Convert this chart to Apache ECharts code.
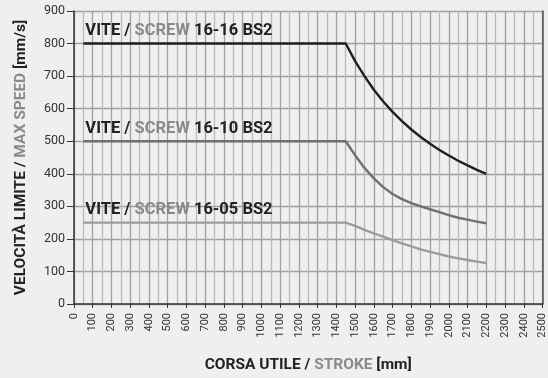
<!DOCTYPE html>
<html>
<head>
<meta charset="utf-8">
<script src="https://cdn.jsdelivr.net/npm/echarts@6/dist/echarts.min.js"></script>
<style>
  html, body { margin: 0; padding: 0; background: #efefef; }
  #chart { width: 548px; height: 378px; }
</style>
</head>
<body>
<div id="chart"></div>
<script>
// Stroke positions [mm] shared by the three speed curves
const strokeMm = [50, 1450, 1500, 1550, 1600, 1650, 1700, 1750, 1800, 1850, 1900, 1950, 2000, 2050, 2100, 2150, 2200];
// Max speed [mm/s] per screw
const speed1616 = [800, 800, 746, 700, 658, 622, 590, 562, 536, 513, 492, 473, 456, 440, 426, 412, 400];
const speed1610 = [500, 500, 457, 418, 386, 359, 338, 322, 310, 300, 291, 282, 273, 265, 259, 253, 248];
const speed1605 = [250, 250, 240, 228, 217, 207, 196, 186, 177, 168, 160, 153, 146, 140, 135, 130, 126];
const screwCodes = ['16-16 BS2', '16-10 BS2', '16-05 BS2'];
const xTicks = { min: 0, max: 2500, step: 100 };
const yTicks = { min: 0, max: 900, step: 100 };

const FONT = "Roboto, 'Liberation Sans', sans-serif";
const DARK = '#222';
const GREY = '#8a8a8a';

function pairs(xs, ys) { return xs.map((x, i) => [x, ys[i]]); }

const chart = echarts.init(document.getElementById('chart'));

const lineStyles = [
  { color: '#1f1f1f', width: 2.4, join: 'round' },
  { color: '#707070', width: 2.4, join: 'round' },
  { color: '#9c9c9c', width: 2.4, join: 'round' }
];
const seriesData = [speed1616, speed1610, speed1605];

const titleRich = {
  d: { fontFamily: FONT, fontWeight: 'bold', fontSize: 15.5, color: DARK },
  g: { fontFamily: FONT, fontWeight: 'bold', fontSize: 15.5, color: GREY }
};

chart.setOption({
  backgroundColor: '#efefef',
  animation: false,
  grid: { left: 74, right: 4, top: 11, bottom: 66 },
  xAxis: {
    type: 'value', min: xTicks.min, max: xTicks.max, interval: xTicks.step,
    axisLine: { lineStyle: { color: '#333', width: 1.5 } },
    axisTick: { show: true, length: 4, lineStyle: { color: '#333' } },
    axisLabel: { rotate: 90, margin: 9, fontSize: 11, color: '#333', fontFamily: FONT,
                 formatter: v => String(v) },
    splitLine: { show: true, lineStyle: { color: '#a0a0a0', width: 1.3 } },
    minorTick: { show: false, splitNumber: 2 },
    minorSplitLine: { show: true, lineStyle: { color: '#bababa', width: 1.3 } },
    name: '{d|CORSA UTILE / }{g|STROKE}{d| [mm]}',
    nameLocation: 'middle', nameGap: 53,
    nameTextStyle: { rich: titleRich }
  },
  yAxis: [{
    type: 'value', min: yTicks.min, max: yTicks.max, interval: yTicks.step,
    axisLine: { show: true, lineStyle: { color: '#333', width: 1.5 } },
    axisTick: { show: true, length: 7, lineStyle: { color: '#333' } },
    axisLabel: { margin: 9, fontSize: 12.5, color: '#333', fontFamily: FONT },
    splitLine: { show: true, lineStyle: { color: '#a0a0a0', width: 1.3 } },
    name: '{d|VELOCITÀ LIMITE / }{g|MAX SPEED}{d| [mm/s]}',
    nameLocation: 'middle', nameGap: 45, nameRotate: 90,
    nameTextStyle: { rich: titleRich }
  }, {
    type: 'value', position: 'right', min: yTicks.min, max: yTicks.max, interval: yTicks.step,
    axisLine: { show: true, lineStyle: { color: '#555', width: 1.5 } },
    axisTick: { show: false }, axisLabel: { show: false }, splitLine: { show: false }
  }],
  series: seriesData.map((ys, i) => ({
    type: 'line',
    data: pairs(strokeMm, ys),
    showSymbol: false,
    smooth: false,
    lineStyle: lineStyles[i],
    z: 5 - i
  }))
});

// Screw name captions, each placed just above its own curve's flat section
const captionAnchors = seriesData.map(ys => [strokeMm[0], ys[0]]);
chart.setOption({
  graphic: captionAnchors.map((pt, i) => {
    const p = chart.convertToPixel({ xAxisIndex: 0, yAxisIndex: 0 }, pt);
    return {
      type: 'text', left: p[0] + 2, top: p[1] - 21, z: 10,
      style: {
        text: '{d|VITE / }{g|SCREW}{d| ' + screwCodes[i] + '}',
        rich: {
          d: { fontFamily: FONT, fontWeight: 'bold', fontSize: 16.5, fill: DARK },
          g: { fontFamily: FONT, fontWeight: 'bold', fontSize: 16.5, fill: GREY }
        }
      }
    };
  })
});
</script>
</body>
</html>
